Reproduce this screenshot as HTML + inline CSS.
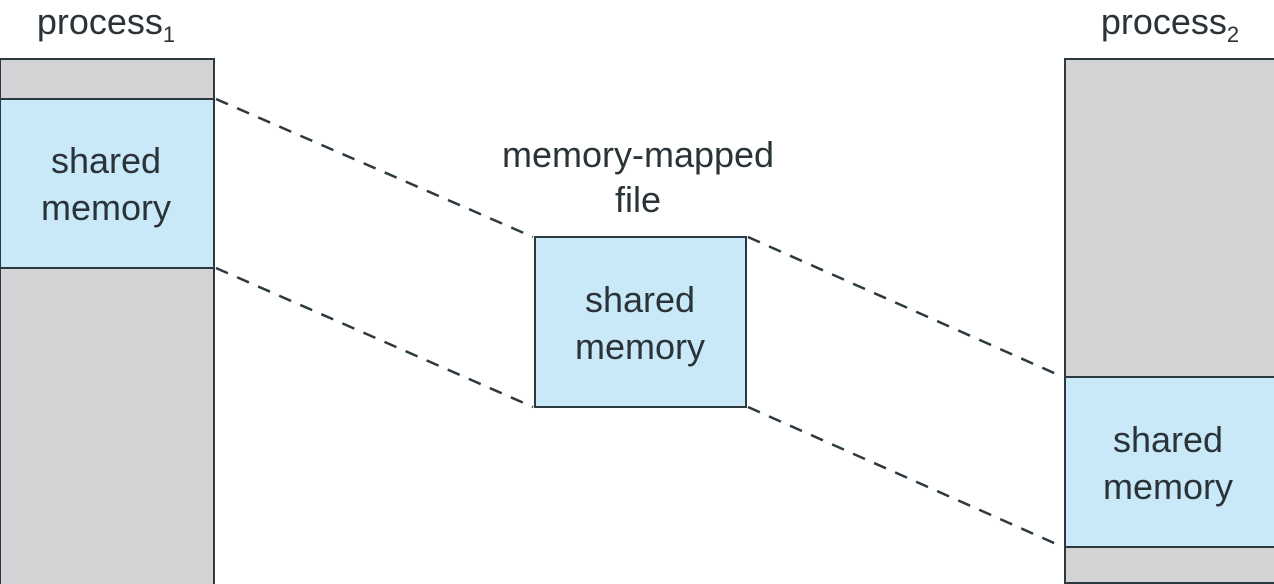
<!DOCTYPE html>
<html><head><style>body{margin:0;background:#fff}svg{display:block}text{font-family:"Liberation Sans",sans-serif;fill:#2a3338}</style></head>
<body>
<svg width="1274" height="584" viewBox="0 0 1274 584">
<rect x="0" y="59" width="214" height="530" fill="#d3d3d5" stroke="#2c3a40" stroke-width="2"/>
<rect x="0" y="99" width="214" height="169" fill="#c9e8f8" stroke="#2c3a40" stroke-width="2"/>
<rect x="1065" y="59" width="215" height="524" fill="#d3d3d5" stroke="#2c3a40" stroke-width="2"/>
<rect x="1065" y="377" width="215" height="170" fill="#c9e8f8" stroke="#2c3a40" stroke-width="2"/>
<rect x="535" y="237" width="211" height="170" fill="#c9e8f8" stroke="#2c3a40" stroke-width="2"/>
<g stroke="#2c3a40" stroke-width="2.5" stroke-dasharray="13,10">
<line x1="216" y1="99" x2="533" y2="237"/>
<line x1="216" y1="268" x2="533" y2="407"/>
<line x1="748" y1="237" x2="1063" y2="377"/>
<line x1="748" y1="407" x2="1063" y2="547"/>
</g>
<g font-size="36" text-anchor="middle">
<text x="106" y="173">shared</text><text x="106" y="220">memory</text>
<text x="640" y="312">shared</text><text x="640" y="359">memory</text>
<text x="1168" y="452">shared</text><text x="1168" y="499">memory</text>
<text x="638" y="167">memory-mapped</text><text x="638" y="212">file</text>
<text x="106" y="34">process<tspan font-size="22" dy="8">1</tspan></text>
<text x="1170" y="34">process<tspan font-size="22" dy="8">2</tspan></text>
</g>
</svg>
</body></html>
